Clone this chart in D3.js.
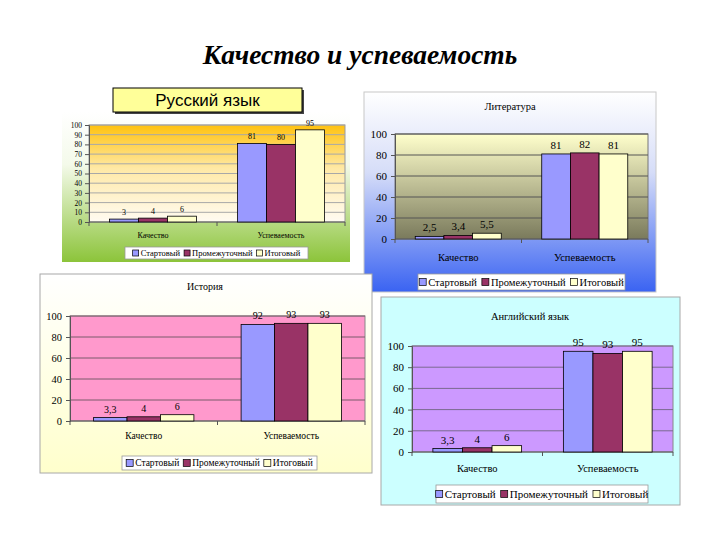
<!DOCTYPE html>
<html><head><meta charset="utf-8">
<script src="https://cdn.jsdelivr.net/npm/d3@7"></script>
<style>body{margin:0;background:#fff} svg{display:block}</style>
</head><body>
<svg id="c" width="720" height="540"></svg>
<script>
// ---- data ----
const categories = ["Качество", "Успеваемость"];
const seriesNames = ["Стартовый", "Промежуточный", "Итоговый"];
const seriesColors = ["#9999FF", "#993366", "#FFFFCC"];
const russianValues = [[3, 81], [4, 80], [6, 95]];
const literatureValues = [[2.5, 81], [3.4, 82], [5.5, 81]];
const historyValues = [[3.3, 92], [4, 93], [6, 93]];
const englishValues = [[3.3, 95], [4, 93], [6, 95]];
const russianTicks = [0, 10, 20, 30, 40, 50, 60, 70, 80, 90, 100];
const otherTicks = [0, 20, 40, 60, 80, 100];
const mainTitle = "Качество и успеваемость";
const panelTitles = ["Русский язык", "Литература", "История", "Английский язык"];

const SERIF = '"Liberation Serif"';
const svg = d3.select("#c");
const defs = svg.append("defs");
function vgrad(id, stops) {
  const g = defs.append("linearGradient").attr("id", id).attr("x1", 0).attr("y1", 0).attr("x2", 0).attr("y2", 1);
  stops.forEach(s => g.append("stop").attr("offset", s[0]).attr("stop-color", s[1]));
}
vgrad("g1out", [[0, "#FFFFFF"], [0.35, "#F4FAEA"], [1, "#8CC43A"]]);
vgrad("g1plot", [[0, "#FFC20E"], [0.45, "#FFE9A6"], [1, "#FFFBF2"]]);
vgrad("g2out", [[0, "#FFFFFF"], [0.4, "#D6DDF8"], [1, "#3A63F2"]]);
vgrad("g2plot", [[0, "#FFFFCC"], [1, "#7A7A5C"]]);
vgrad("g3out", [[0, "#FFFFFF"], [1, "#FFFFCC"]]);

const fmt = v => String(v).replace(".", ",");
function txt(sel, size) { return sel.style("font-family", SERIF).style("font-size", size + "px"); }

function drawPanel(cfg) {
  const g = svg.append("g");
  g.append("rect").attr("x", cfg.box[0]).attr("y", cfg.box[1]).attr("width", cfg.box[2]).attr("height", cfg.box[3])
    .attr("fill", cfg.bg).attr("stroke", cfg.boxStroke).attr("stroke-width", 1);
  if (cfg.title) {
    txt(g.append("text").attr("x", cfg.title[0]).attr("y", cfg.title[1]).attr("text-anchor", "middle"), cfg.fs.title)
      .text(cfg.titleText);
  }
  const [px, py, pw, ph] = cfg.plot;
  g.append("rect").attr("x", px).attr("y", py).attr("width", pw).attr("height", ph)
    .attr("fill", cfg.plotFill).attr("stroke", cfg.plotStroke).attr("stroke-width", 1);
  const y = d3.scaleLinear().domain([0, 100]).range([py + ph, py]);
  const x0 = d3.scaleBand().domain(categories).range([px, px + pw]).paddingInner(0).paddingOuter(0);
  const bw = x0.bandwidth();
  const x1 = d3.scaleBand().domain(d3.range(seriesNames.length)).range([bw * 0.16, bw * 0.84]);
  // gridlines
  g.selectAll(null).data(cfg.ticks.slice(1)).join("line")
    .attr("x1", px).attr("x2", px + pw).attr("y1", d => y(d)).attr("y2", d => y(d))
    .attr("stroke", cfg.gridColor).attr("stroke-width", 1);
  // y axis
  const ya = d3.axisLeft(y).tickValues(cfg.ticks).tickSize(4).tickPadding(cfg.tickPad || 4);
  const yg = g.append("g").attr("transform", `translate(${px},0)`).call(ya);
  yg.select(".domain").attr("stroke", "#555");
  yg.selectAll(".tick line").attr("stroke", "#555");
  txt(yg.selectAll("text"), cfg.fs.tick).attr("fill", "#000");
  // x axis line and category ticks
  g.append("line").attr("x1", px).attr("x2", px + pw).attr("y1", y(0)).attr("y2", y(0)).attr("stroke", "#555");
  g.selectAll(null).data([px, px + bw, px + pw]).join("line")
    .attr("x1", d => d).attr("x2", d => d).attr("y1", y(0)).attr("y2", y(0) + 4).attr("stroke", "#555");
  txt(g.selectAll(null).data(categories).join("text")
    .attr("x", d => x0(d) + bw / 2).attr("y", cfg.catY).attr("text-anchor", "middle"), cfg.fs.cat).text(d => d);
  // bars
  cfg.values.forEach((vals, si) => {
    const sg = g.append("g");
    const dd = vals.map((v, ci) => ({ v, c: categories[ci] }));
    sg.selectAll("rect").data(dd).join("rect")
      .attr("x", d => x0(d.c) + x1(si)).attr("width", x1.bandwidth())
      .attr("y", d => y(d.v)).attr("height", d => y(0) - y(d.v))
      .attr("fill", seriesColors[si]).attr("stroke", "#000").attr("stroke-width", 0.8);
    txt(sg.selectAll("text").data(dd).join("text")
      .attr("x", d => x0(d.c) + x1(si) + x1.bandwidth() / 2).attr("y", d => y(d.v) - cfg.valOff)
      .attr("text-anchor", "middle"), cfg.fs.val).text(d => fmt(d.v));
  });
  // legend
  const [lx, ly, lw, lh] = cfg.legend;
  const lg = g.append("g");
  lg.append("rect").attr("x", lx).attr("y", ly).attr("width", lw).attr("height", lh)
    .attr("fill", "#fff").attr("stroke", "#999").attr("stroke-width", 0.8);
  const s = cfg.sw;
  const items = lg.selectAll("g").data(seriesNames).join("g");
  items.append("rect").attr("width", s).attr("height", s).attr("y", -s / 2)
    .attr("fill", (d, i) => seriesColors[i]).attr("stroke", "#000").attr("stroke-width", 0.7);
  const txts = txt(items.append("text").attr("x", s + 2).attr("dy", "0.35em"), cfg.fs.leg).text(d => d);
  const widths = txts.nodes().map(n => n.getComputedTextLength() + s + 2);
  const gap = cfg.legGap;
  const total = d3.sum(widths) + gap * (widths.length - 1);
  let cx = lx + (lw - total) / 2;
  items.attr("transform", (d, i) => { const t = `translate(${cx},${ly + lh / 2})`; cx += widths[i] + gap; return t; });
}

// main title
txt(svg.append("text").attr("x", 360).attr("y", 64).attr("text-anchor", "middle"), 27.5)
  .style("font-weight", "bold").style("font-style", "italic").text(mainTitle);

// Panel 1 - Russian
drawPanel({
  box: [62, 112, 288, 150], bg: "url(#g1out)", boxStroke: "none",
  plot: [89, 125, 256, 97], plotFill: "url(#g1plot)", plotStroke: "#999", gridColor: "#A8A8A8",
  ticks: russianTicks, values: russianValues, catY: 238, valOff: 4, tickPad: 3,
  fs: { tick: 7.5, cat: 8, val: 8, leg: 8.5 },
  legend: [125, 247, 183, 12], sw: 6, legGap: 4
});
// title box for Russian
svg.append("rect").attr("x", 115).attr("y", 90).attr("width", 189).attr("height", 24).attr("fill", "#444");
svg.append("rect").attr("x", 113).attr("y", 88).attr("width", 189).attr("height", 24)
  .attr("fill", "#FFFF99").attr("stroke", "#000").attr("stroke-width", 1);
svg.append("text").attr("x", 207.5).attr("y", 106).attr("text-anchor", "middle")
  .style("font-family", '"Liberation Sans"').style("font-size", "17px").text(panelTitles[0]);

// Panel 2 - Literature
drawPanel({
  box: [364, 92, 292, 200], bg: "url(#g2out)", boxStroke: "#C8C8C8",
  title: [510, 110], titleText: panelTitles[1],
  plot: [395, 134, 253, 105], plotFill: "url(#g2plot)", plotStroke: "#777", gridColor: "#555",
  ticks: otherTicks, values: literatureValues, catY: 261, valOff: 5,
  fs: { title: 10.5, tick: 11, cat: 10.5, val: 11, leg: 10.5 },
  legend: [418, 274, 207, 16], sw: 7, legGap: 5
});

// Panel 3 - History
drawPanel({
  box: [40, 274, 332, 199], bg: "url(#g3out)", boxStroke: "#A8A8A8",
  title: [205, 290], titleText: panelTitles[2],
  plot: [70, 316, 295, 105], plotFill: "#FF99CC", plotStroke: "#888", gridColor: "#7A5A6A",
  ticks: otherTicks, values: historyValues, catY: 439, valOff: 5,
  fs: { title: 10, tick: 10.5, cat: 9.5, val: 10, leg: 9.5 },
  legend: [122, 456, 195, 14], sw: 7, legGap: 4
});

// Panel 4 - English
drawPanel({
  box: [381, 297, 299, 208], bg: "#CCFFFF", boxStroke: "#A8A8A8",
  title: [530, 320], titleText: panelTitles[3],
  plot: [412, 346, 261, 106], plotFill: "#CC99FF", plotStroke: "#888", gridColor: "#7A6A90",
  ticks: otherTicks, values: englishValues, catY: 472, valOff: 5,
  fs: { title: 10.5, tick: 11, cat: 10.5, val: 11, leg: 11 },
  legend: [436, 485, 212, 18], sw: 7, legGap: 5
});
</script>
</body></html>
